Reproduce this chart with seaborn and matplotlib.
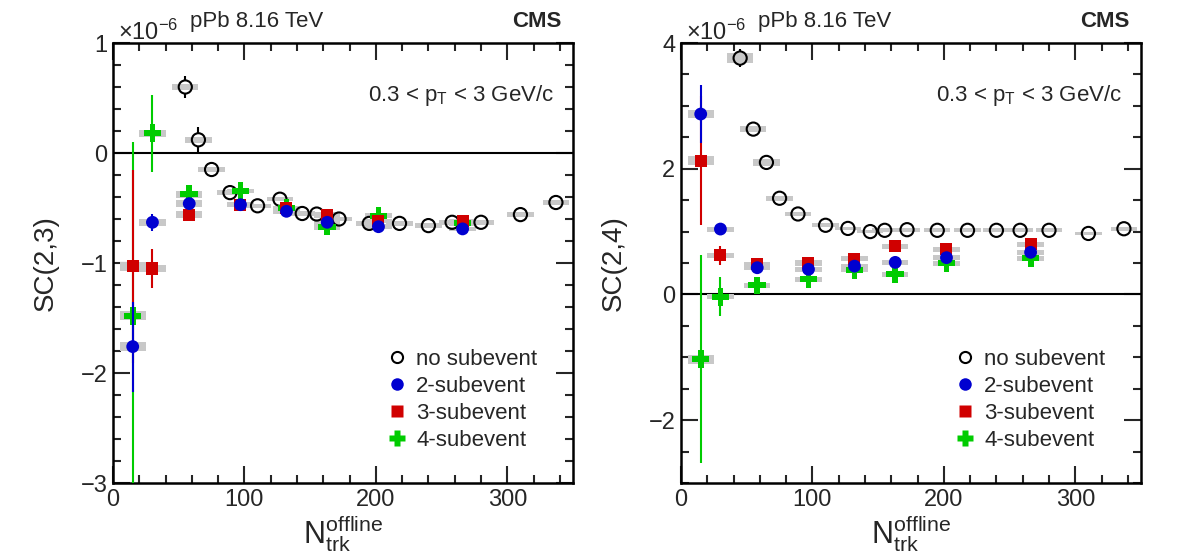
import numpy as np
import matplotlib
matplotlib.use("Agg")
import matplotlib.pyplot as plt
from matplotlib.lines import Line2D
import seaborn as sns

# ---------------- data (values in units of 1e-6) ----------------
x_nosub = [45, 55, 65, 75, 89, 110, 127, 144, 155, 172, 195, 218, 240, 258, 280, 310, 337]
x_sub = [15, 30, 58, 97, 132, 163, 202, 266]

# SC(2,3) -- first no-subevent point lies above the plotted range
sc23_nosub = [np.nan, 0.60, 0.12, -0.15, -0.36, -0.48, -0.42, -0.55, -0.555, -0.60,
              -0.64, -0.64, -0.66, -0.63, -0.63, -0.56, -0.45]
sc23_nosub_err = [0.0, 0.10, 0.12, 0.07, 0.04, 0.03, 0.03, 0.03, 0.03, 0.03,
                  0.03, 0.03, 0.03, 0.03, 0.03, 0.03, 0.03]
sc23_nosub_sys = [0.0, 0.03, 0.03, 0.02, 0.02, 0.02, 0.02, 0.02, 0.02, 0.02,
                  0.02, 0.02, 0.02, 0.02, 0.02, 0.02, 0.02]
sc23_2sub = [-1.76, -0.63, -0.46, -0.47, -0.53, -0.63, -0.67, -0.69]
sc23_2sub_err = [0.41, 0.08, 0.04, 0.03, 0.03, 0.03, 0.03, 0.03]
sc23_3sub = [-1.03, -1.05, -0.56, -0.47, -0.50, -0.565, -0.62, -0.62]
sc23_3sub_err = [0.88, 0.175, 0.04, 0.03, 0.03, 0.03, 0.03, 0.03]
sc23_4sub = [-1.48, 0.18, -0.375, -0.345, -0.50, -0.67, -0.57, -0.64]
sc23_4sub_err = [1.58, 0.35, 0.05, 0.06, 0.05, 0.05, 0.05, 0.05]
sc23_sub_sys = [0.04, 0.03, 0.03, 0.02, 0.02, 0.03, 0.02, 0.02]

# SC(2,4)
sc24_nosub = [3.76, 2.63, 2.10, 1.53, 1.28, 1.10, 1.05, 1.00, 1.02, 1.03,
              1.02, 1.02, 1.02, 1.02, 1.02, 0.97, 1.045]
sc24_nosub_err = [0.14, 0.03, 0.03, 0.03, 0.02, 0.02, 0.02, 0.02, 0.02, 0.02,
                  0.02, 0.02, 0.02, 0.02, 0.02, 0.02, 0.02]
sc24_nosub_sys = [0.08, 0.05, 0.05, 0.04, 0.03, 0.03, 0.03, 0.03, 0.03, 0.03,
                  0.03, 0.03, 0.03, 0.03, 0.03, 0.03, 0.03]
sc24_2sub = [2.87, 1.04, 0.425, 0.40, 0.45, 0.51, 0.585, 0.67]
sc24_2sub_err = [0.46, 0.05, 0.04, 0.04, 0.04, 0.04, 0.04, 0.04]
sc24_3sub = [2.13, 0.62, 0.48, 0.50, 0.57, 0.77, 0.72, 0.80]
sc24_3sub_err = [1.03, 0.15, 0.05, 0.05, 0.05, 0.05, 0.05, 0.05]
sc24_4sub = [-1.03, -0.04, 0.145, 0.24, 0.39, 0.32, 0.495, 0.575]
sc24_4sub_err = [1.65, 0.31, 0.06, 0.06, 0.06, 0.06, 0.06, 0.06]
sc24_sub_sys = [0.07, 0.04, 0.04, 0.04, 0.04, 0.04, 0.04, 0.04]

legend_labels = ["no subevent", "2-subevent", "3-subevent", "4-subevent"]
ylabels = ["SC(2,3)", "SC(2,4)"]
ylims = [(-3, 1), (-3, 4)]
ymajor = [1, 2]
yminor = [0.2, 0.5]
pt_text = "0.3 < p$_{\\mathrm{T}}$ < 3 GeV/c"
energy_text = "pPb 8.16 TeV"

# ---------------- style ----------------
sns.set_theme(style="ticks")
plt.rcParams["font.family"] = ["Liberation Sans", "DejaVu Sans"]
plt.rcParams["mathtext.fontset"] = "custom"
plt.rcParams["mathtext.rm"] = "Liberation Sans"
plt.rcParams["mathtext.it"] = "Liberation Sans:italic"
plt.rcParams["mathtext.bf"] = "Liberation Sans:bold"

BLUE = "#0000d0"
RED = "#d00000"
GREEN = "#00cc00"
GRAY = "#c8c8c8"
BOXW = 20
CIRCLE_R_PX = 6.5   # radius of open circle marker in pixels

fig = plt.figure(figsize=(11.82, 5.59), dpi=100)
axL = fig.add_axes([113 / 1182, 76 / 559, 460 / 1182, 440 / 559])
axR = fig.add_axes([681 / 1182, 76 / 559, 460 / 1182, 440 / 559])

panels = [
    (axL, sc23_nosub, sc23_nosub_err, sc23_nosub_sys,
     [(sc23_4sub, sc23_4sub_err, GREEN, "P", 160),
      (sc23_3sub, sc23_3sub_err, RED, "s", 75),
      (sc23_2sub, sc23_2sub_err, BLUE, "o", 85)], sc23_sub_sys),
    (axR, sc24_nosub, sc24_nosub_err, sc24_nosub_sys,
     [(sc24_4sub, sc24_4sub_err, GREEN, "P", 160),
      (sc24_3sub, sc24_3sub_err, RED, "s", 75),
      (sc24_2sub, sc24_2sub_err, BLUE, "o", 85)], sc24_sub_sys),
]

for i, (ax, ynos, enos, snos, subs, ssys) in enumerate(panels):
    ax.set_xlim(0, 350)
    ax.set_ylim(*ylims[i])
    ax.axhline(0, color="black", lw=1.5, zorder=1)
    # systematic boxes
    xn = np.array(x_nosub, float)
    yn = np.array(ynos, float)
    sn = np.array(snos, float)
    en = np.array(enos, float)
    m = ~np.isnan(yn)
    ax.bar(xn[m], 2 * sn[m], bottom=yn[m] - sn[m], width=BOXW, color=GRAY,
           edgecolor="none", zorder=2)
    for ys, es, c, mk, s in subs:
        ya = np.array(ys, float)
        sa = np.array(ssys, float)
        ax.bar(x_sub, 2 * sa, bottom=ya - sa, width=BOXW, color=GRAY,
               edgecolor="none", zorder=2)
    # no subevent: error bars only outside the open circle
    r = CIRCLE_R_PX * (ylims[i][1] - ylims[i][0]) / 440.0
    big = m & (en > r)
    ax.vlines(xn[big], yn[big] + r, yn[big] + en[big], color="black", lw=1.5, zorder=3)
    ax.vlines(xn[big], yn[big] - en[big], yn[big] - r, color="black", lw=1.5, zorder=3)
    sns.scatterplot(x=xn[m], y=yn[m], ax=ax, marker="o", s=90, facecolor="none",
                    edgecolor="black", linewidth=1.5, zorder=4)
    for k, (ys, es, c, mk, s) in enumerate(subs):
        ax.errorbar(x_sub, ys, yerr=es, fmt="none", ecolor=c, elinewidth=1.5,
                    zorder=5 + 2 * k)
        sns.scatterplot(x=x_sub, y=ys, ax=ax, marker=mk, s=s, color=c,
                        edgecolor="none", linewidth=0, zorder=6 + 2 * k)

    ax.xaxis.set_major_locator(matplotlib.ticker.MultipleLocator(100))
    ax.xaxis.set_minor_locator(matplotlib.ticker.MultipleLocator(20))
    ax.yaxis.set_major_locator(matplotlib.ticker.MultipleLocator(ymajor[i]))
    ax.yaxis.set_minor_locator(matplotlib.ticker.MultipleLocator(yminor[i]))
    ax.tick_params(which="both", direction="in", top=True, right=True,
                   width=1.5, labelsize=17, pad=4)
    ax.tick_params(which="major", length=12)
    ax.tick_params(which="minor", length=6)
    ax.yaxis.set_major_formatter(matplotlib.ticker.FuncFormatter(
        lambda v, p: f"{v:g}".replace("-", "\u2212")))
    for sp in ax.spines.values():
        sp.set_linewidth(1.8)
        sp.set_color("black")
    ax.set_ylabel(ylabels[i], fontsize=20, labelpad=16)
    ax.set_xlabel("N$_{\\mathrm{trk}}^{\\mathrm{offline}}$", fontsize=22, labelpad=2)

    # annotations
    ax.text(0.01, 0.995, "\u00d710$^{\\mathrm{-6}}$", transform=ax.transAxes,
            ha="left", va="bottom", fontsize=17)
    ax.text(0.168, 1.025, energy_text, transform=ax.transAxes, ha="left",
            va="bottom", fontsize=16)
    ax.text(0.975, 1.025, "CMS", transform=ax.transAxes, ha="right",
            va="bottom", fontsize=16, fontweight="bold")
    ax.text(0.96, 0.88, pt_text, transform=ax.transAxes, ha="right",
            va="center", fontsize=16)

    handles = [
        Line2D([], [], ls="none", marker="o", mfc="none", mec="black", mew=1.5, ms=8),
        Line2D([], [], ls="none", marker="o", color=BLUE, mec="none", ms=9),
        Line2D([], [], ls="none", marker="s", color=RED, mec="none", ms=8),
        Line2D([], [], ls="none", marker="P", color=GREEN, mec="none", ms=11),
    ]
    ax.legend(handles, legend_labels, loc="upper left",
              bbox_to_anchor=(0.57, 0.33), frameon=False, fontsize=16,
              handlelength=1.0, handletextpad=0.35, labelspacing=0.27,
              borderpad=0.0)

fig.savefig("out.png", dpi=100)
